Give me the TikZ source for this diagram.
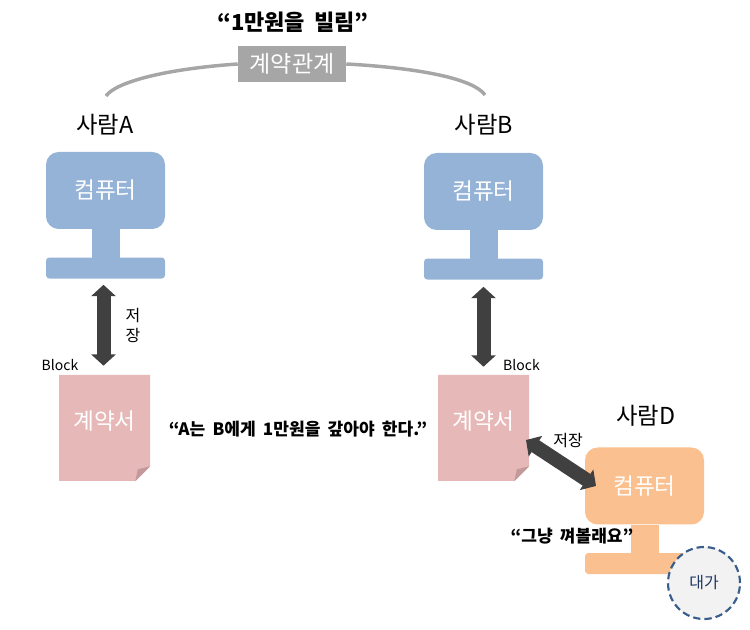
\documentclass[tikz,border=0pt]{standalone}
\usepackage{fontspec}
\setmainfont{Noto Sans CJK KR}
\usetikzlibrary{arrows.meta,shapes.misc}

\definecolor{pcblue}{HTML}{95B3D7}
\definecolor{pcorange}{HTML}{FAC090}
\definecolor{docpink}{HTML}{E6B9B8}
\definecolor{docfold}{HTML}{C39A99}
\definecolor{linkgray}{HTML}{A6A6A6}
\definecolor{arrowgray}{HTML}{404040}
\definecolor{feeline}{HTML}{385D8A}
\definecolor{feefill}{HTML}{F2F2F2}
\definecolor{feetext}{HTML}{1F3864}

\newcommand{\widewords}{\spaceskip 0.42em\relax}

\tikzset{
  pchead/.style={minimum width=89.25pt, minimum height=57.75pt, inner sep=0pt,
                 rounded corners=9.5pt, text=white, font=\fontsize{17}{20}\selectfont},
  pcneck/.style={minimum width=20.5pt, minimum height=20.5pt, inner sep=0pt, anchor=north, line width=0.5pt},
  pcbase/.style={minimum width=89.25pt, minimum height=15.75pt, inner sep=0pt,
                 rounded corners=2.5pt, anchor=north},
  docpage/.style={chamfered rectangle, chamfered rectangle corners=south east,
                  chamfered rectangle sep=5.6pt, minimum width=68.25pt, minimum height=79.5pt,
                  inner sep=0pt, fill=docpink, text=white, text depth=12pt,
                  font=\fontsize{17}{20}\selectfont},
  person/.style={font=\fontsize{17.5}{20}\selectfont},
  quoted/.style={font=\fontsize{12.8}{16}\selectfont\bfseries, execute at begin node=\widewords},
  small/.style={font=\fontsize{12}{15}\selectfont},
  store/.style={line width=10.5pt, draw=arrowgray,
                {Triangle[width=18pt,length=8.5pt]}-{Triangle[width=18pt,length=8.5pt]}},
  link/.style={line width=2.6pt, draw=linkgray},
}

\begin{document}
\begin{tikzpicture}[x=0.75pt,y=-0.75pt]
    \useasboundingbox (0,0) rectangle (750,630);

    % computers
    \foreach \who/\x/\y/\col in {A/105.5/190.5/pcblue, B/483.5/191.5/pcblue, D/644.5/486/pcorange} {
      \node[pchead, fill=\col] (pc\who) at (\x,\y) {컴퓨터};
      \node[pcneck, fill=\col, draw=\col] (neck\who) at (pc\who.south) {};
      \node[pcbase, fill=\col] (base\who) at (neck\who.south) {};
    }

    % contracts
    \foreach \who/\x in {A/104.5, B/483.5} {
      \node[docpage] (doc\who) at (\x,428) {계약서};
      \coordinate (corner\who) at (doc\who.east |- doc\who.south);
      \fill[docfold] ([yshift=15*0.75pt]corner\who) -- ([xshift=-15*0.75pt]corner\who)
        -- ([xshift=-12.5*0.75pt,yshift=12*0.75pt]corner\who) -- cycle;
    }

    % relation
    \node[fill=linkgray, text=white, minimum width=81pt, minimum height=27pt, inner sep=0pt,
          font=\fontsize{17.3}{20}\selectfont] (contract) at (292,64) {계약관계};
    \coordinate (endA) at (106,96);
    \coordinate (endB) at (485,95);
    \draw[link] (endA) .. controls (116,82) and (165,69) .. (contract.west);
    \draw[link] (contract.east) .. controls (420,68) and (474,79) .. (endB);

    % people
    \node[person] (nameA) at (105,125) {사람A};
    \node[person] (nameB) at (484,125) {사람B};
    \node[person] (nameD) at (646,416) {사람D};
    \node[quoted, font=\fontsize{16.5}{19}\selectfont\bfseries] (loan) at (293,22) {“1만원을 빌림”};
    \node[quoted] (debt) at (298,429) {“A는 B에게 1만원을 갚아야 한다.”};
    \node[quoted] (joinin) at (572,536) {“그냥 껴볼래요”};

    % storing
    \draw[store] ([xshift=-2*0.75pt,yshift=-6*0.75pt]baseA.south) -- ([xshift=-1*0.75pt,yshift=9*0.75pt]docA.north);
    \draw[store] ([yshift=-7*0.75pt]baseB.south) -- ([yshift=8*0.75pt]docB.north);
    \coordinate (tipdoc) at (526,440);
    \coordinate (tippc) at (596,486);
    \draw[store] (tipdoc) -- (tippc);
    \node[small, align=center, inner sep=0pt] (saveA) at (133,325) {저\\장};
    \node[small, inner sep=0pt] (saveB) at (568,441) {저장};
    \node[font=\fontsize{10.5}{12}\selectfont, inner sep=0pt] (blockA) at (60,365) {Block};
    \node[font=\fontsize{10.5}{12}\selectfont, inner sep=0pt] (blockB) at (521.5,365) {Block};

    % fee
    \node[circle, draw=feeline, fill=feefill, line width=1.6pt, dash pattern=on 5.5pt off 3pt, minimum size=54pt,
          inner sep=0pt, text=feetext, font=\fontsize{12}{15}\selectfont] (fee) at (704,583) {대가};
    \end{tikzpicture}
\end{document}
